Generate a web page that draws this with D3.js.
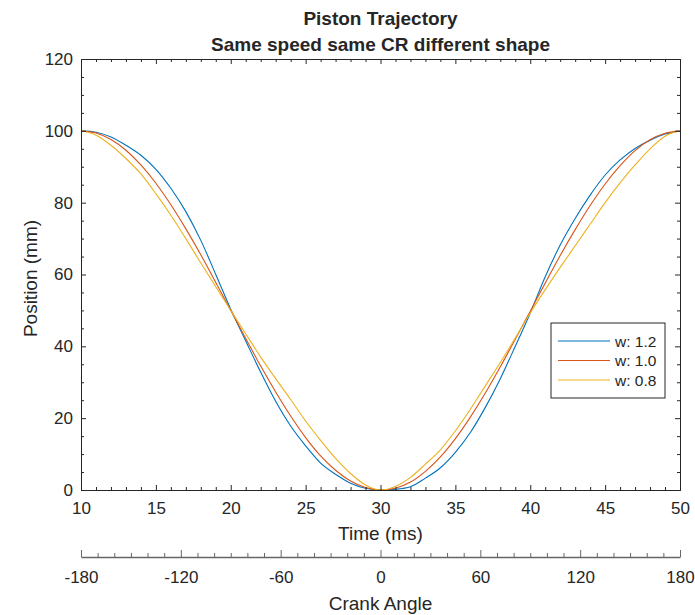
<!DOCTYPE html>
<html>
<head>
<meta charset="utf-8">
<script src="https://cdn.jsdelivr.net/npm/d3@7"></script>
<style>
  html, body { margin: 0; padding: 0; background: #fff; }
  svg { display: block; }
  text { font-family: "Liberation Sans", Arial, Helvetica, sans-serif; fill: #262626; }
</style>
</head>
<body>
<svg id="chart" width="695" height="615"></svg>
<script>
// ---- data ----
const timeMs = [10,11,12,13,14,15,16,17,18,19,20,21,22,23,24,25,26,27,28,29,30,
                31,32,33,34,35,36,37,38,39,40,41,42,43,44,45,46,47,48,49,50];
const posW12 = [100,99.6,98.3,96.0,93.2,89.3,84.0,77.5,69.5,60.0,50.3,41.5,32.8,24.7,17.8,12.3,7.5,4.4,1.9,0.5,0.0,
                0.2,0.9,3.3,6.2,10.5,16.0,23.0,31.0,40.0,49.3,59.4,68.2,75.6,82.1,87.7,91.9,95.1,97.4,99.1,100];
const posW10 = [100,99.4,97.6,94.6,90.5,85.4,79.4,72.7,65.5,57.8,50.0,42.2,34.5,27.3,20.6,14.6,9.5,5.5,2.5,0.7,0.0,
                0.5,2.2,5.2,9.2,14.3,20.3,27.0,34.3,42.0,49.8,57.6,65.3,72.5,79.2,85.2,90.3,94.5,97.5,99.3,100];
const posW08 = [100,98.8,96.0,92.3,88.0,82.5,76.5,70.0,63.2,56.6,50.0,43.5,37.0,31.0,25.2,19.2,13.8,8.8,4.6,1.4,0.0,
                1.0,3.5,7.2,11.2,16.5,22.5,29.0,35.5,42.3,49.3,55.8,62.0,68.0,74.0,80.0,85.5,90.5,95.0,98.5,100];
const seriesNames = ["w: 1.2", "w: 1.0", "w: 0.8"];
const seriesColors = ["#0072BD", "#D95319", "#EDB120"];
const xTicks = [10,15,20,25,30,35,40,45,50];
const yTicks = [0,20,40,60,80,100,120];
const crankTicks = [-180,-120,-60,0,60,120,180];

// ---- layout ----
const svg = d3.select("#chart");
const L = 81, R = 680, T = 59, B = 490;
const axisColor = "#262626";
const fontTick = 17, fontLabel = 19, fontTitle = 19;
const fmt = d => String(d);   // plain hyphen-minus like the reference

const x = d3.scaleLinear().domain([10, 50]).range([L, R]);
const y = d3.scaleLinear().domain([0, 120]).range([B, T]);
const xc = d3.scaleLinear().domain([-180, 180]).range([L, R]);

function styleAxis(g, color) {
  g.select(".domain").attr("stroke", color || axisColor).attr("stroke-width", 1);
  g.selectAll(".tick line").attr("stroke", color || axisColor).attr("stroke-width", 1);
  g.selectAll(".tick text").attr("font-size", fontTick).attr("font-family", "Liberation Sans, Arial, sans-serif").attr("fill", "#262626");
}

// minor ticks
const xMinor = d3.range(10, 51, 1).filter(v => v % 5 !== 0);
const yMinor = d3.range(0, 121, 5).filter(v => v % 20 !== 0);
const cMinor = d3.range(-180, 181, 10).filter(v => v % 60 !== 0);

// curves
const line = d3.line().x((d, i) => x(timeMs[i])).y(d => y(d)).curve(d3.curveMonotoneX);
const seriesData = [posW12, posW10, posW08];
const gLines = svg.append("g");
seriesData.forEach((s, k) => {
  gLines.append("path").datum(s)
    .attr("d", line)
    .attr("fill", "none")
    .attr("stroke", seriesColors[k])
    .attr("stroke-width", 1.1);
});

// main axes (ticks inward, box)
const gx = svg.append("g").attr("transform", `translate(0,${B})`)
  .call(d3.axisBottom(x).tickValues(xTicks).tickSizeInner(-5).tickSizeOuter(0).tickPadding(12).tickFormat(fmt));
styleAxis(gx);
const gxm = svg.append("g").attr("transform", `translate(0,${B})`)
  .call(d3.axisBottom(x).tickValues(xMinor).tickSizeInner(-3).tickSizeOuter(0).tickFormat(""));
styleAxis(gxm);
const gxt = svg.append("g").attr("transform", `translate(0,${T})`)
  .call(d3.axisTop(x).tickValues(xTicks).tickSizeInner(-5).tickSizeOuter(0).tickFormat(""));
styleAxis(gxt);
const gxtm = svg.append("g").attr("transform", `translate(0,${T})`)
  .call(d3.axisTop(x).tickValues(xMinor).tickSizeInner(-3).tickSizeOuter(0).tickFormat(""));
styleAxis(gxtm);

const gy = svg.append("g").attr("transform", `translate(${L},0)`)
  .call(d3.axisLeft(y).tickValues(yTicks).tickSizeInner(-5).tickSizeOuter(0).tickPadding(8).tickFormat(fmt));
styleAxis(gy);
const gym = svg.append("g").attr("transform", `translate(${L},0)`)
  .call(d3.axisLeft(y).tickValues(yMinor).tickSizeInner(-3).tickSizeOuter(0).tickFormat(""));
styleAxis(gym);
const gyr = svg.append("g").attr("transform", `translate(${R},0)`)
  .call(d3.axisRight(y).tickValues(yTicks).tickSizeInner(-5).tickSizeOuter(0).tickFormat(""));
styleAxis(gyr);
const gyrm = svg.append("g").attr("transform", `translate(${R},0)`)
  .call(d3.axisRight(y).tickValues(yMinor).tickSizeInner(-3).tickSizeOuter(0).tickFormat(""));
styleAxis(gyrm);

// crank angle axis
const CY = 557;
const gc = svg.append("g").attr("transform", `translate(0,${CY})`)
  .call(d3.axisBottom(xc).tickValues(crankTicks).tickSizeInner(-7).tickSizeOuter(0).tickPadding(14).tickFormat(fmt));
styleAxis(gc, "#666666");
gc.select(".domain").attr("stroke-width", 1.5);
const gcm = svg.append("g").attr("transform", `translate(0,${CY})`)
  .call(d3.axisBottom(xc).tickValues(cMinor).tickSizeInner(-4).tickSizeOuter(0).tickFormat(""));
styleAxis(gcm, "#666666");
gcm.select(".domain").remove();

// labels
svg.append("text").attr("x", (L + R) / 2).attr("y", 540).attr("text-anchor", "middle")
  .attr("font-size", fontLabel).text("Time (ms)");
svg.append("text").attr("x", (L + R) / 2).attr("y", 610).attr("text-anchor", "middle")
  .attr("font-size", fontLabel).text("Crank Angle");
svg.append("text").attr("transform", `translate(37,${(T + B) / 2 + 4}) rotate(-90)`).attr("text-anchor", "middle")
  .attr("font-size", fontLabel).text("Position (mm)");
svg.append("text").attr("x", (L + R) / 2).attr("y", 25).attr("text-anchor", "middle")
  .attr("font-size", fontTitle).attr("font-weight", "bold").attr("fill", "#000").text("Piston Trajectory");
svg.append("text").attr("x", (L + R) / 2).attr("y", 51).attr("text-anchor", "middle")
  .attr("font-size", fontTitle).attr("font-weight", "bold").attr("fill", "#000").text("Same speed same CR different shape");

// legend
const lg = svg.append("g").attr("transform", "translate(551,323)");
lg.append("rect").attr("x", 0).attr("y", 0).attr("width", 114).attr("height", 75)
  .attr("fill", "#fff").attr("stroke", axisColor).attr("stroke-width", 1);
seriesNames.forEach((nm, k) => {
  const yy = 18 + k * 19.5;
  lg.append("line").attr("x1", 7).attr("x2", 59).attr("y1", yy).attr("y2", yy)
    .attr("stroke", seriesColors[k]).attr("stroke-width", 1.1);
  lg.append("text").attr("x", 64).attr("y", yy + 5.5).attr("font-size", 15.5).text(nm);
});
</script>
</body>
</html>
